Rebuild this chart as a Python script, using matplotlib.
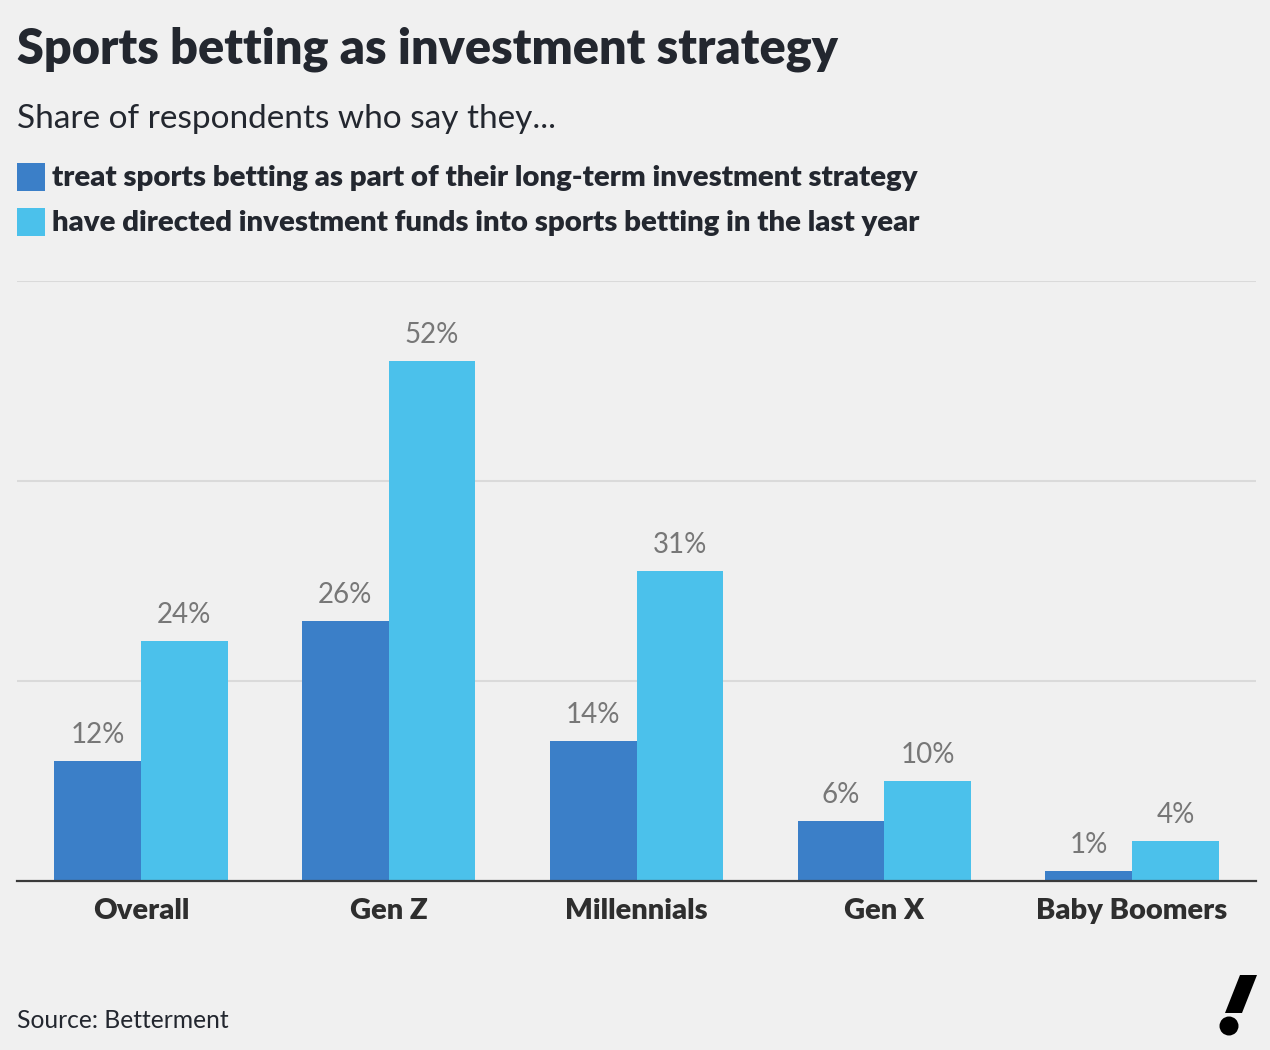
import matplotlib.pyplot as plt
import matplotlib.patches as mpatches
import numpy as np

groups = ["Overall", "Gen Z", "Millennials", "Gen X", "Baby Boomers"]
long_term = [12, 26, 14, 6, 1]
directed = [24, 52, 31, 10, 4]
series_labels = [
    "treat sports betting as part of their long-term investment strategy",
    "have directed investment funds into sports betting in the last year",
]

c_dark = "#3B7FC8"
c_light = "#4BC1EB"
bg = "#F0F0F0"
txt = "#23272F"

W, H = 1270, 1050
plt.rcParams["font.family"] = ["Lato", "DejaVu Sans"]

fig = plt.figure(figsize=(W / 100, H / 100), dpi=100, facecolor=bg)


def fy(px):
    return 1 - px / H


ax = fig.add_axes([17 / W, 1 - 881 / H, (1256 - 17) / W, 600 / H])
ax.set_facecolor(bg)

x = np.arange(len(groups))
width = 0.35
b1 = ax.bar(x - width / 2, long_term, width, color=c_dark, zorder=3)
b2 = ax.bar(x + width / 2, directed, width, color=c_light, zorder=3)

for rects, vals in ((b1, long_term), (b2, directed)):
    for r, v in zip(rects, vals):
        ax.annotate(f"{v}%", (r.get_x() + r.get_width() / 2, v),
                    xytext=(0, 13), textcoords="offset points",
                    ha="center", va="baseline", fontsize=20, color="#777777")

ax.set_xlim(-0.5, len(groups) - 0.5)
ax.set_ylim(0, 60)
ax.set_yticks([20, 40, 60])
ax.yaxis.grid(True, color="#DADADA", linewidth=1.5, zorder=0)
ax.tick_params(axis="y", left=False, labelleft=False)
ax.set_xticks(x)
ax.set_xticklabels(groups, fontsize=21, fontweight="heavy", color="#2E2E2E")
ax.tick_params(axis="x", length=0, pad=12)
for s in ("top", "right", "left"):
    ax.spines[s].set_visible(False)
ax.spines["bottom"].set_color("#3A3A3A")
ax.spines["bottom"].set_linewidth(1.6)
ax.spines["bottom"].set_zorder(4)

# title block
fig.text(17 / W, fy(63), "Sports betting as investment strategy",
         fontsize=35, fontweight="heavy", color=txt, va="baseline")
fig.text(17 / W, fy(128), "Share of respondents who say they...",
         fontsize=24, color=txt, va="baseline")

# legend
for i, (lab, col) in enumerate(zip(series_labels, [c_dark, c_light])):
    top = 163 + i * 45
    fig.patches.append(mpatches.Rectangle((17 / W, fy(top + 28)), 28 / W, 28 / H,
                                          transform=fig.transFigure,
                                          facecolor=col, edgecolor="none"))
    fig.text(52 / W, fy(top + 23), lab, fontsize=21.2, fontweight="heavy",
             color=txt, va="baseline")

fig.text(17 / W, fy(1028), "Source: Betterment", fontsize=17.7, color=txt,
         va="baseline")

# logo mark
slash = [(1240, 975), (1257, 975), (1242, 1013), (1225, 1013)]
fig.patches.append(mpatches.Polygon([(px / W, fy(py)) for px, py in slash],
                                    closed=True, transform=fig.transFigure,
                                    facecolor="black", edgecolor="none"))
fig.patches.append(mpatches.Ellipse((1229 / W, fy(1026)), 19 / W, 19 / H,
                                    transform=fig.transFigure,
                                    facecolor="black", edgecolor="none"))

fig.savefig("out.png", dpi=100, facecolor=bg)
